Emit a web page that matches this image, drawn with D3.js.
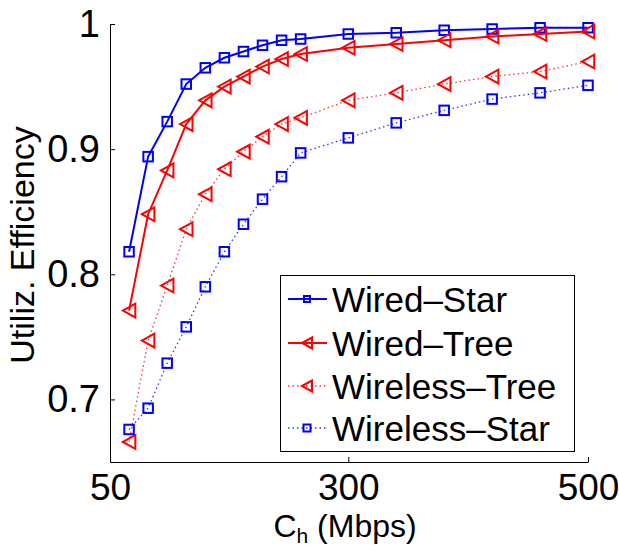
<!DOCTYPE html>
<html><head><meta charset="utf-8">
<script src="https://cdn.jsdelivr.net/npm/d3@7"></script>
<style>body{margin:0;background:#fff}svg{display:block}text{font-family:"Liberation Sans",Arial,sans-serif;fill:#000}</style>
</head><body>
<script>
const xValues = [70,90,110,130,150,170,190,210,230,250,300,340,380,420,460,500];
const wiredStar = [0.818,0.894,0.922,0.952,0.965,0.973,0.978,0.983,0.987,0.988,0.992,0.993,0.995,0.996,0.997,0.997];
const wiredTree = [0.771,0.848,0.883,0.920,0.939,0.950,0.958,0.966,0.972,0.976,0.981,0.984,0.987,0.990,0.992,0.994];
const wirelessTree = [0.666,0.747,0.791,0.836,0.864,0.884,0.898,0.910,0.920,0.925,0.939,0.945,0.952,0.958,0.962,0.970];
const wirelessStar = [0.676,0.693,0.729,0.758,0.790,0.818,0.840,0.860,0.878,0.897,0.909,0.921,0.931,0.940,0.945,0.951];
const seriesNames = ["Wired\u2013Star","Wired\u2013Tree","Wireless\u2013Tree","Wireless\u2013Star"];
const xTicks = [50,300,500];
const yTicks = [0.7,0.8,0.9,1];
const yTickLabels = ["0.7","0.8","0.9","1"];

const W=619,H=547;
const svg=d3.select("body").append("svg").attr("width",W).attr("height",H);
const x=d3.scaleLinear().domain([50,300,500]).range([110,348.3,588]);
const y=d3.scaleLinear().domain([0.65,1]).range([462,24]);

const series=[
 {name:seriesNames[0],vals:wiredStar,color:"#0000ff",marker:"square",dash:null},
 {name:seriesNames[1],vals:wiredTree,color:"#ff0000",marker:"tri",dash:null},
 {name:seriesNames[2],vals:wirelessTree,color:"#ff0000",marker:"tri",dash:"1.5,3"},
 {name:seriesNames[3],vals:wirelessStar,color:"#0000ff",marker:"square",dash:"1.5,3"}
];

// axes
const xAxis=d3.axisBottom(x).tickValues(xTicks).tickFormat(d3.format("d")).tickSizeInner(-5).tickSizeOuter(0).tickPadding(12);
const gx=svg.append("g").attr("transform","translate(0,462)").call(xAxis);
gx.selectAll("text").style("font-size","37px").attr("dy","0.71em");
const yAxis=d3.axisLeft(y).tickValues(yTicks).tickFormat((d,i)=>yTickLabels[i]).tickSizeInner(-5).tickSizeOuter(0).tickPadding(10);
const gy=svg.append("g").attr("transform","translate(110,0)").call(yAxis);
gy.selectAll("text").style("font-size","38px");
svg.selectAll(".domain,.tick line").attr("stroke","#000").attr("stroke-width",1);

svg.append("text").attr("transform","translate(34,245) rotate(-90)").attr("text-anchor","middle").style("font-size","34px").text("Utiliz. Efficiency");
const xl=svg.append("text").attr("x",345).attr("y",537).attr("text-anchor","middle").style("font-size","32px");
xl.append("tspan").text("C");
xl.append("tspan").attr("dy",6).style("font-size","21px").text("h");
xl.append("tspan").attr("dy",-6).text("\u00a0(Mbps)");

function drawMarker(g,type,cx,cy,color,s){
  if(type==="square"){
    g.append("rect").attr("x",cx-s/2).attr("y",cy-s/2).attr("width",s).attr("height",s)
     .attr("fill","none").attr("stroke",color).attr("stroke-width",2);
  } else {
    const hw=s*0.5, hh=s*0.55;
    g.append("path").attr("d",`M${cx-hw},${cy}L${cx+hw},${cy-hh}L${cx+hw},${cy+hh}Z`)
     .attr("fill","none").attr("stroke",color).attr("stroke-width",2);
  }
}

const line=d3.line().x((d,i)=>x(xValues[i])).y(d=>y(d));
series.forEach(s=>{
  const g=svg.append("g");
  g.append("path").datum(s.vals).attr("d",line).attr("fill","none").attr("stroke",s.color)
   .attr("stroke-width",s.dash?1.3:2).attr("stroke-dasharray",s.dash).attr("opacity",s.dash?0.8:1);
  s.vals.forEach((v,i)=>drawMarker(g,s.marker,x(xValues[i]),y(v),s.color,s.marker==="square"?9.5:12.5));
});

// legend
const lg=svg.append("g");
lg.append("rect").attr("x",280.5).attr("y",275.5).attr("width",294).attr("height",176).attr("fill","#fff").attr("stroke","#000").attr("stroke-width",1);
const rowsY=[299,343,386,428];
series.forEach((s,i)=>{
  const cy=rowsY[i];
  lg.append("line").attr("x1",288).attr("x2",327).attr("y1",cy).attr("y2",cy).attr("stroke",s.color)
   .attr("stroke-width",s.dash?1.3:2).attr("stroke-dasharray",s.dash).attr("opacity",s.dash?0.8:1);
  drawMarker(lg,s.marker,307,cy,s.color,s.marker==="square"?(s.dash?7:6):10);
  lg.append("text").attr("x",332).attr("y",cy).attr("dy","0.36em").style("font-size","35px").text(s.name);
});
</script>
</body></html>
